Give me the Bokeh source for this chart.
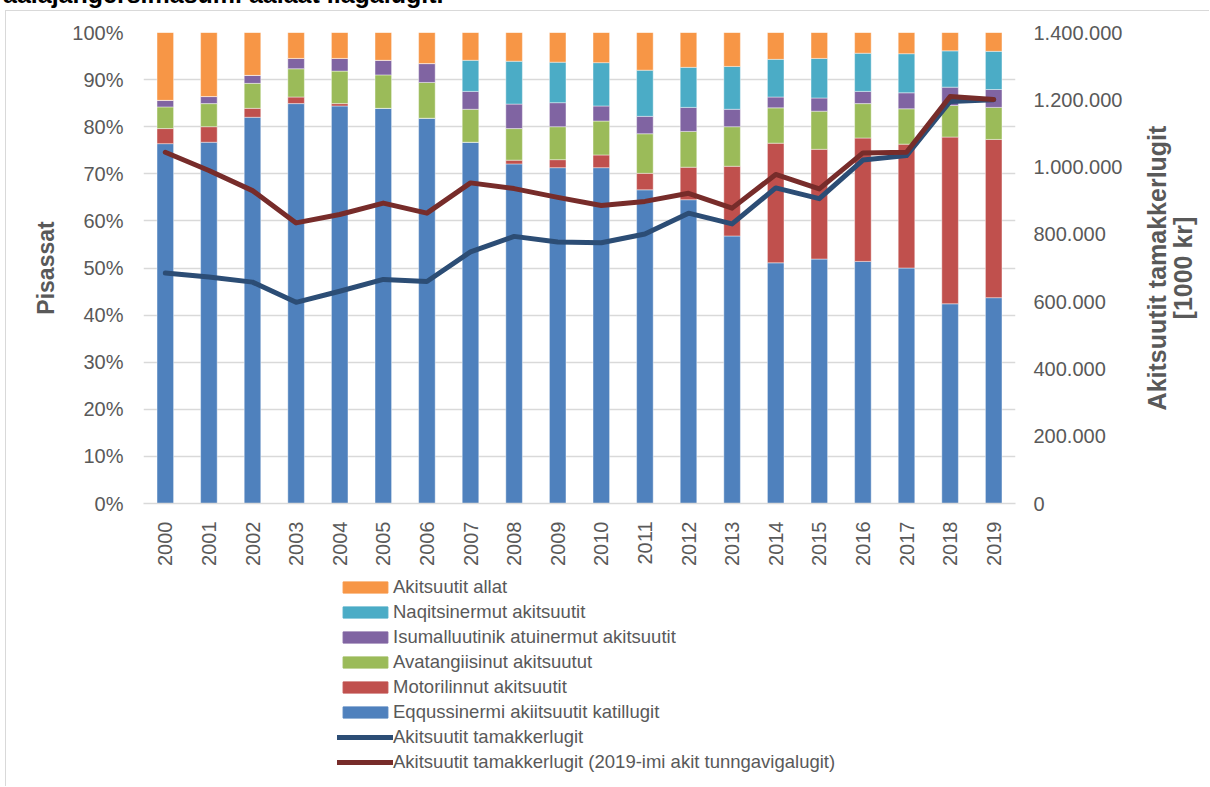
import math
from bokeh.plotting import figure
from bokeh.layouts import column, row
from bokeh.models import (Range1d, FactorRange, LinearAxis, FixedTicker, PrintfTickFormatter,
                          CustomJSTickFormatter, Legend, LegendItem, Div, Label)
from bokeh.embed import file_html
from bokeh.resources import INLINE

years = [str(y) for y in range(2000, 2020)]

eqqussinermi = [76.4, 76.7, 82.0, 84.9, 84.4, 83.9, 81.8, 76.7, 72.1, 71.3,
                71.3, 66.6, 64.5, 56.8, 51.1, 51.9, 51.4, 50.0, 42.4, 43.7]
motorilinnut = [3.2, 3.3, 1.9, 1.4, 0.5, 0.0, 0.0, 0.0, 0.8, 1.7,
                2.7, 3.5, 6.9, 14.8, 25.4, 23.3, 26.2, 26.3, 35.4, 33.6]
avatangiisinut = [4.6, 4.9, 5.3, 6.0, 6.9, 7.1, 7.6, 7.0, 6.7, 7.0,
                  7.2, 8.4, 7.6, 8.4, 7.5, 8.1, 7.3, 7.5, 6.7, 6.8]
isumalluutinik = [1.4, 1.5, 1.7, 2.2, 2.7, 3.1, 4.0, 3.8, 5.2, 5.1,
                  3.2, 3.7, 5.1, 3.7, 2.3, 2.8, 2.6, 3.4, 3.9, 3.8]
naqitsinermut = [0.0, 0.0, 0.0, 0.0, 0.0, 0.0, 0.0, 6.6, 9.1, 8.6,
                 9.2, 9.8, 8.5, 9.1, 8.0, 8.4, 8.1, 8.3, 7.7, 8.1]
allat = [14.4, 13.6, 9.1, 5.5, 5.5, 5.9, 6.6, 5.9, 6.1, 6.3,
         6.4, 8.0, 7.4, 7.2, 5.7, 5.5, 4.4, 4.5, 3.9, 4.0]

tamakkerlugit = [685000, 673000, 658000, 598000, 631000, 666000, 660000, 748000, 794000, 777000,
                 775000, 801000, 863000, 831000, 938000, 906000, 1021000, 1034000, 1195000, 1200000]
tamakkerlugit_2019 = [1044000, 990000, 930000, 834000, 859000, 893000, 863000, 953000, 936000, 910000,
                      886000, 898000, 922000, 878000, 978000, 935000, 1042000, 1044000, 1210000, 1201000]

pct_ticks = list(range(0, 101, 10))
kr_ticks = list(range(0, 1400001, 200000))

title_text = "aalajangersimasumi aalaat ilagalugit."
left_title = "Pisassat"
right_title = ["Akitsuutit tamakkerlugit", "[1000 kr]"]

series = ["eqq", "mot", "ava", "isu", "naq", "all"]
labels = ["Eqqussinermi akiitsuutit katillugit", "Motorilinnut akitsuutit",
          "Avatangiisinut akitsuutut", "Isumalluutinik atuinermut akitsuutit",
          "Naqitsinermut akitsuutit", "Akitsuutit allat"]
line_labels = ["Akitsuutit tamakkerlugit",
               "Akitsuutit tamakkerlugit (2019-imi akit tunngavigalugit)"]
colors = ["#4F81BD", "#C0504D", "#9BBB59", "#8064A2", "#4BACC6", "#F79646"]
line_colors = ["#2C4D75", "#772C2A"]

data = dict(years=years, eqq=eqqussinermi, mot=motorilinnut, ava=avatangiisinut,
            isu=isumalluutinik, naq=naqitsinermut, all=allat,
            tot=tamakkerlugit, tot19=tamakkerlugit_2019)

FONT = "Liberation Sans"
GREY = "#595959"
BORDER = "1px solid #D9D9D9"

title_div = Div(
    text=('<div style="position:relative; left:3px; top:-18px; font-family:\'Liberation Sans\';'
          ' font-weight:bold; font-size:25px; line-height:25px; white-space:nowrap; color:#000;">'
          + title_text + '</div>'),
    width=1210, height=10, margin=0, styles={"overflow": "hidden"})

# ---------------- main chart ----------------
p = figure(width=1134, height=560, x_range=FactorRange(*years, range_padding=0),
           y_range=Range1d(0, 100), output_backend="svg", toolbar_location=None,
           min_border_left=137, min_border_right=125, min_border_top=21, min_border_bottom=68)
p.margin = (0, 0, 0, 5)
p.styles = {"border-left": BORDER, "border-top": BORDER}
p.outline_line_color = None
p.extra_y_ranges = {"kr": Range1d(0, 1400000)}

bars = p.vbar_stack(series, x="years", width=0.38, source=data, color=colors,
                    line_color="white", line_width=0.6, line_alpha=0.7)
l1 = p.line(x="years", y="tot", source=data, y_range_name="kr", line_width=5,
            line_color=line_colors[0], line_cap="round", line_join="round")
l2 = p.line(x="years", y="tot19", source=data, y_range_name="kr", line_width=5,
            line_color=line_colors[1], line_cap="round", line_join="round")

p.xgrid.grid_line_color = None
p.ygrid.grid_line_color = "#D9D9D9"
p.ygrid.grid_line_width = 1.5
p.ygrid.ticker = FixedTicker(ticks=pct_ticks)

xa = p.xaxis[0]
xa.axis_line_color = "#D9D9D9"
xa.axis_line_width = 1.5
xa.major_tick_line_color = None
xa.minor_tick_line_color = None
xa.major_label_orientation = math.pi / 2
xa.major_label_text_font = FONT
xa.major_label_text_font_size = "20px"
xa.major_label_text_color = GREY
xa.major_label_standoff = 12

ya = p.yaxis[0]
ya.ticker = FixedTicker(ticks=pct_ticks)
ya.formatter = PrintfTickFormatter(format="%d%%")
ya.axis_line_color = None
ya.major_tick_line_color = None
ya.minor_tick_line_color = None
ya.major_label_text_font = FONT
ya.major_label_text_font_size = "20px"
ya.major_label_text_color = GREY
ya.major_label_standoff = 14
ya.axis_label = left_title
ya.axis_label_text_font = FONT
ya.axis_label_text_font_size = "23px"
ya.axis_label_text_font_style = "bold"
ya.axis_label_text_color = GREY
ya.axis_label_standoff = 10

ra = LinearAxis(y_range_name="kr", ticker=FixedTicker(ticks=kr_ticks))
ra.formatter = CustomJSTickFormatter(code="""
    return tick.toFixed(0).replace(/\\B(?=(\\d{3})+(?!\\d))/g, '.');
""")
ra.axis_line_color = None
ra.major_tick_line_color = None
ra.minor_tick_line_color = None
ra.major_label_text_font = FONT
ra.major_label_text_font_size = "20px"
ra.major_label_text_color = GREY
ra.major_label_standoff = 12
p.add_layout(ra, "right")

# ---------------- right axis title panel ----------------
pt = figure(width=70, height=560, x_range=Range1d(0, 70), y_range=Range1d(0, 1),
            output_backend="svg", toolbar_location=None,
            x_axis_location=None, y_axis_location=None,
            min_border_left=0, min_border_right=0, min_border_top=21, min_border_bottom=68)
pt.margin = 0
pt.styles = {"border-top": BORDER}
pt.outline_line_color = None
pt.xgrid.visible = False
pt.ygrid.visible = False
for xpos, txt in zip([17, 43], right_title):
    pt.add_layout(Label(x=xpos, y=0.5, text=txt, angle=math.pi / 2,
                        text_align="center", text_baseline="middle",
                        text_font=FONT, text_font_size="25px", text_font_style="bold",
                        text_color=GREY))

# ---------------- legend panel ----------------
pl = figure(width=1204, height=216, x_range=Range1d(0, 1), y_range=Range1d(0, 1),
            output_backend="svg", toolbar_location=None,
            x_axis_location=None, y_axis_location=None,
            min_border_left=137, min_border_right=0, min_border_top=0, min_border_bottom=0)
pl.margin = (0, 0, 0, 5)
pl.styles = {"border-left": BORDER}
pl.outline_line_color = None
pl.xgrid.visible = False
pl.ygrid.visible = False

leg_items = []
for i in range(5, -1, -1):
    r = pl.vbar(x=[-5], top=[-5], bottom=[-6], width=0.1, color=colors[i])
    leg_items.append(LegendItem(label=labels[i], renderers=[r]))
for i in range(2):
    r = pl.line(x=[-5, -4], y=[-5, -5], line_width=5, line_color=line_colors[i], line_cap="round")
    leg_items.append(LegendItem(label=line_labels[i], renderers=[r]))

legend = Legend(items=leg_items, location=(194, 13), orientation="vertical",
                padding=0, margin=0, spacing=3, glyph_width=56, glyph_height=14,
                label_height=22, label_standoff=0,
                label_text_font=FONT, label_text_font_size="18.5px", label_text_color=GREY,
                border_line_color=None, background_fill_alpha=0)
pl.add_layout(legend, "center")

root = column(title_div, row(p, pt), pl)
open("out.html", "w").write(file_html(root, INLINE))
